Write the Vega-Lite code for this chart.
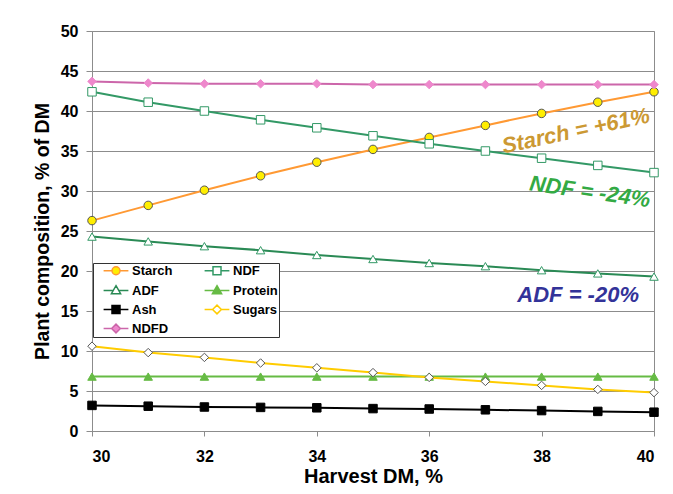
{
  "$schema": "https://vega.github.io/schema/vega-lite/v6.json",
  "width": 562,
  "height": 400,
  "autosize": {"type": "none"},
  "padding": {"left": 92, "top": 31, "right": 19, "bottom": 63},
  "background": "white",
  "config": {
    "view": {"stroke": "#8c8c8c", "strokeWidth": 1},
    "font": "Liberation Sans",
    "axis": {
      "labelFont": "Liberation Sans", "labelFontWeight": "bold", "labelFontSize": 16, "labelColor": "black",
      "titleFont": "Liberation Sans", "titleFontWeight": "bold", "titleColor": "black",
      "domainColor": "#8c8c8c", "tickColor": "#8c8c8c", "gridColor": "#8c8c8c", "gridOpacity": 1, "labelOverlap": false
    }
  },
  "datasets": {
    "series": [
      {"x":30,"series":"Starch","v":26.3},{"x":31,"series":"Starch","v":28.2},{"x":32,"series":"Starch","v":30.1},{"x":33,"series":"Starch","v":31.9},{"x":34,"series":"Starch","v":33.6},{"x":35,"series":"Starch","v":35.2},{"x":36,"series":"Starch","v":36.7},{"x":37,"series":"Starch","v":38.2},{"x":38,"series":"Starch","v":39.7},{"x":39,"series":"Starch","v":41.1},{"x":40,"series":"Starch","v":42.4},
      {"x":30,"series":"NDF","v":42.4},{"x":31,"series":"NDF","v":41.1},{"x":32,"series":"NDF","v":40.0},{"x":33,"series":"NDF","v":38.9},{"x":34,"series":"NDF","v":37.9},{"x":35,"series":"NDF","v":36.9},{"x":36,"series":"NDF","v":35.9},{"x":37,"series":"NDF","v":35.0},{"x":38,"series":"NDF","v":34.1},{"x":39,"series":"NDF","v":33.2},{"x":40,"series":"NDF","v":32.3},
      {"x":30,"series":"ADF","v":24.3},{"x":31,"series":"ADF","v":23.7},{"x":32,"series":"ADF","v":23.1},{"x":33,"series":"ADF","v":22.6},{"x":34,"series":"ADF","v":22.0},{"x":35,"series":"ADF","v":21.5},{"x":36,"series":"ADF","v":21.0},{"x":37,"series":"ADF","v":20.6},{"x":38,"series":"ADF","v":20.1},{"x":39,"series":"ADF","v":19.7},{"x":40,"series":"ADF","v":19.3},
      {"x":30,"series":"Protein","v":6.8},{"x":31,"series":"Protein","v":6.8},{"x":32,"series":"Protein","v":6.8},{"x":33,"series":"Protein","v":6.8},{"x":34,"series":"Protein","v":6.8},{"x":35,"series":"Protein","v":6.8},{"x":36,"series":"Protein","v":6.8},{"x":37,"series":"Protein","v":6.8},{"x":38,"series":"Protein","v":6.8},{"x":39,"series":"Protein","v":6.8},{"x":40,"series":"Protein","v":6.8},
      {"x":30,"series":"Ash","v":3.2},{"x":31,"series":"Ash","v":3.1},{"x":32,"series":"Ash","v":3.0},{"x":33,"series":"Ash","v":2.95},{"x":34,"series":"Ash","v":2.9},{"x":35,"series":"Ash","v":2.8},{"x":36,"series":"Ash","v":2.75},{"x":37,"series":"Ash","v":2.65},{"x":38,"series":"Ash","v":2.55},{"x":39,"series":"Ash","v":2.45},{"x":40,"series":"Ash","v":2.35},
      {"x":30,"series":"Sugars","v":10.6},{"x":31,"series":"Sugars","v":9.8},{"x":32,"series":"Sugars","v":9.2},{"x":33,"series":"Sugars","v":8.5},{"x":34,"series":"Sugars","v":7.9},{"x":35,"series":"Sugars","v":7.3},{"x":36,"series":"Sugars","v":6.7},{"x":37,"series":"Sugars","v":6.2},{"x":38,"series":"Sugars","v":5.7},{"x":39,"series":"Sugars","v":5.2},{"x":40,"series":"Sugars","v":4.8},
      {"x":30,"series":"NDFD","v":43.7},{"x":31,"series":"NDFD","v":43.5},{"x":32,"series":"NDFD","v":43.4},{"x":33,"series":"NDFD","v":43.4},{"x":34,"series":"NDFD","v":43.4},{"x":35,"series":"NDFD","v":43.3},{"x":36,"series":"NDFD","v":43.3},{"x":37,"series":"NDFD","v":43.3},{"x":38,"series":"NDFD","v":43.3},{"x":39,"series":"NDFD","v":43.3},{"x":40,"series":"NDFD","v":43.3}
    ],
    "notes": [
      {"label": "Starch = +61%", "x": 38.61, "y": 37.5},
      {"label": "NDF = -24%", "x": 38.86, "y": 29.9},
      {"label": "ADF = -20%", "x": 38.65, "y": 17.0}
    ]
  },
  "encoding": {
    "x": {"field": "x", "type": "quantitative", "scale": {"domain": [30, 40], "nice": false, "zero": false},
          "axis": {"title": "Harvest DM, %", "values": [30, 32, 34, 36, 38, 40], "format": "d", "grid": false, "tickSize": 5, "labelPadding": 12, "titlePadding": 2, "titleFontSize": 20}},
    "y": {"field": "v", "type": "quantitative", "scale": {"domain": [0, 50], "nice": false},
          "axis": {"title": "Plant composition, % of DM", "values": [0, 5, 10, 15, 20, 25, 30, 35, 40, 45, 50], "format": "d", "grid": true, "tickSize": 6, "labelPadding": 8, "titlePadding": 8, "titleFontSize": 19.5}}
  },
  "layer": [
    {
      "data": {"name": "series"},
      "mark": {"type": "line", "strokeWidth": 2},
      "encoding": {
        "color": {"field": "series", "type": "nominal",
                  "scale": {"domain": ["Starch", "NDF", "ADF", "Protein", "Ash", "Sugars", "NDFD"],
                            "range": ["#FF9933", "#339966", "#2A8A55", "#66BB44", "#000000", "#FFCC00", "#CC66AA"]},
                  "legend": null}
      }
    },
    {
      "data": {"name": "series"},
      "mark": {"type": "point", "filled": true, "size": 72, "strokeWidth": 1, "opacity": 1},
      "encoding": {
        "shape": {"field": "series", "type": "nominal",
                  "scale": {"domain": ["Starch", "NDF", "ADF", "Protein", "Ash", "Sugars", "NDFD"],
                            "range": ["circle", "square", "triangle-up", "triangle-up", "square", "diamond", "diamond"]},
                  "legend": null},
        "fill": {"field": "series", "type": "nominal",
                 "scale": {"domain": ["Starch", "NDF", "ADF", "Protein", "Ash", "Sugars", "NDFD"],
                           "range": ["#FFEE00", "#FFFFFF", "#FFFFFF", "#66BB44", "#000000", "#FFFFFF", "#EE88CC"]},
                 "legend": null},
        "stroke": {"field": "series", "type": "nominal",
                   "scale": {"domain": ["Starch", "NDF", "ADF", "Protein", "Ash", "Sugars", "NDFD"],
                             "range": ["#555555", "#339966", "#339966", "#66BB44", "#000000", "#555555", "#EE88CC"]},
                   "legend": null}
      }
    },
    {
      "data": {"name": "series"},
      "transform": [{"filter": "datum.v < -100"}],
      "mark": {"type": "point", "filled": true, "size": 64, "strokeWidth": 1.5, "opacity": 1},
      "encoding": {
        "shape": {"field": "series", "type": "nominal",
                  "scale": {"domain": ["Starch", "ADF", "Ash", "NDFD", "NDF", "Protein", "Sugars"],
                            "range": [
                              "M-3.1,0H-1M1,0H3.1M-1,0A1,1,0,1,1,1,0A1,1,0,1,1,-1,0Z",
                              "M-3.1,0H-0.6M0.6,0H3.1M0,-1.2L1.15,0.8H-1.15Z",
                              "M-3.1,0H-1M1,0H3.1M-1,-1H1V1H-1Z",
                              "M-3.1,0H-1.1M1.1,0H3.1M-1.1,0L0,-1.1L1.1,0L0,1.1Z",
                              "M-3.1,0H-1M1,0H3.1M-1,-1H1V1H-1Z",
                              "M-3.1,0H-0.6M0.6,0H3.1M0,-1.2L1.15,0.8H-1.15Z",
                              "M-3.1,0H-1.1M1.1,0H3.1M-1.1,0L0,-1.1L1.1,0L0,1.1Z"
                            ]},
                  "legend": {"title": null, "orient": "none", "legendX": 1, "legendY": 232, "columns": 2,
                             "columnPadding": 22, "rowPadding": 4, "padding": 1,
                             "strokeColor": "#333333", "fillColor": "white",
                             "symbolSize": 64, "symbolStrokeWidth": 1.5, "symbolOffset": 15.5, "labelOffset": 9.5,
                             "labelFont": "Liberation Sans", "labelFontSize": 13, "labelFontWeight": "bold", "labelColor": "black"}},
        "fill": {"field": "series", "type": "nominal",
                 "scale": {"domain": ["Starch", "ADF", "Ash", "NDFD", "NDF", "Protein", "Sugars"],
                           "range": ["#FFEE00", "#FFFFFF", "#000000", "#EE88CC", "#FFFFFF", "#66BB44", "#FFFFFF"]}},
        "stroke": {"field": "series", "type": "nominal",
                   "scale": {"domain": ["Starch", "ADF", "Ash", "NDFD", "NDF", "Protein", "Sugars"],
                             "range": ["#FF9933", "#2A8A55", "#000000", "#CC66AA", "#339966", "#66BB44", "#FFCC00"]}}
      }
    },
    {
      "data": {"name": "notes"},
      "transform": [{"filter": "datum.label == 'Starch = +61%'"}],
      "mark": {"type": "text", "font": "Liberation Sans", "fontSize": 22, "fontWeight": "bold", "fontStyle": "italic", "color": "#CC9933", "angle": -12, "align": "center", "baseline": "middle"},
      "encoding": {
        "y": {"field": "y", "type": "quantitative"},
        "text": {"field": "label"}
      }
    },
    {
      "data": {"name": "notes"},
      "transform": [{"filter": "datum.label == 'NDF = -24%'"}],
      "mark": {"type": "text", "font": "Liberation Sans", "fontSize": 22, "fontWeight": "bold", "fontStyle": "italic", "color": "#33AA44", "angle": 8, "align": "center", "baseline": "middle"},
      "encoding": {
        "y": {"field": "y", "type": "quantitative"},
        "text": {"field": "label"}
      }
    },
    {
      "data": {"name": "notes"},
      "transform": [{"filter": "datum.label == 'ADF = -20%'"}],
      "mark": {"type": "text", "font": "Liberation Sans", "fontSize": 22, "fontWeight": "bold", "fontStyle": "italic", "color": "#333399", "align": "center", "baseline": "middle"},
      "encoding": {
        "y": {"field": "y", "type": "quantitative"},
        "text": {"field": "label"}
      }
    }
  ],
  "resolve": {"scale": {"shape": "independent", "fill": "independent", "stroke": "independent"}}
}
